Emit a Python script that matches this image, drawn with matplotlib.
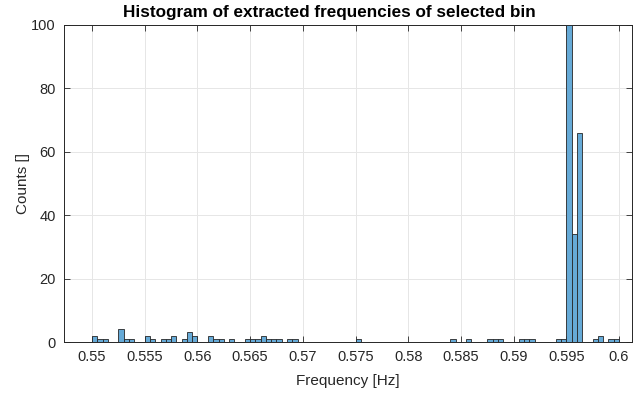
import matplotlib
matplotlib.use("Agg")
import matplotlib.pyplot as plt
import numpy as np

# Histogram data: left edges of the non-empty bins and their counts
bin_width = 0.0005
bin_index = [0, 1, 2, 5, 6, 7, 10, 11, 13, 14, 15, 17, 18, 19, 22, 23, 24, 26,
             29, 30, 31, 32, 33, 34, 35, 37, 38, 50, 68, 71, 75, 76, 77,
             81, 82, 83, 88, 89, 90, 91, 92, 95, 96, 98, 99]
bin_counts = [2, 1, 1, 4, 1, 1, 2, 1, 1, 1, 2, 1, 3, 2, 2, 1, 1, 1,
              1, 1, 1, 2, 1, 1, 1, 1, 1, 1, 1, 1, 1, 1, 1,
              1, 1, 1, 1, 1, 100, 34, 66, 1, 2, 1, 1]
bin_start = 0.55

x_ticks = [0.55, 0.555, 0.56, 0.565, 0.57, 0.575, 0.58, 0.585, 0.59, 0.595, 0.6]
x_tick_labels = ["0.55", "0.555", "0.56", "0.565", "0.57", "0.575", "0.58",
                 "0.585", "0.59", "0.595", "0.6"]
y_ticks = [0, 20, 40, 60, 80, 100]

plt.rcParams["font.family"] = ["Liberation Sans", "DejaVu Sans"]
axis_col = "#262626"

fig = plt.figure(figsize=(6.37, 3.96), dpi=100)
ax = fig.add_axes([64 / 637, 1 - 342 / 396, (632 - 64) / 637, (342 - 25) / 396])

edges = bin_start + bin_width * np.array(bin_index)
ax.bar(edges, bin_counts, width=bin_width, align="edge",
       color="#66AAD7", edgecolor="#262626", linewidth=0.6, zorder=3)

ax.set_xlim(0.54734, 0.60123)
ax.set_ylim(0, 100)
ax.set_xticks(x_ticks)
ax.set_xticklabels(x_tick_labels)
ax.set_yticks(y_ticks)

ax.grid(True, color="#e6e6e6", linewidth=0.7, zorder=0)
ax.tick_params(direction="in", top=True, right=True, length=4, width=0.6,
               colors=axis_col, labelsize=10.5, pad=6)
for s in ax.spines.values():
    s.set_color(axis_col)
    s.set_linewidth(0.7)

ax.set_xlabel("Frequency [Hz]", fontsize=11, color=axis_col, labelpad=7)
ax.set_ylabel("Counts []", fontsize=11, color=axis_col, labelpad=1)
ax.set_title("Histogram of extracted frequencies of selected bin",
             fontsize=12.3, fontweight="bold", color="black", pad=6, x=0.468)

fig.savefig("out.png", dpi=100)
